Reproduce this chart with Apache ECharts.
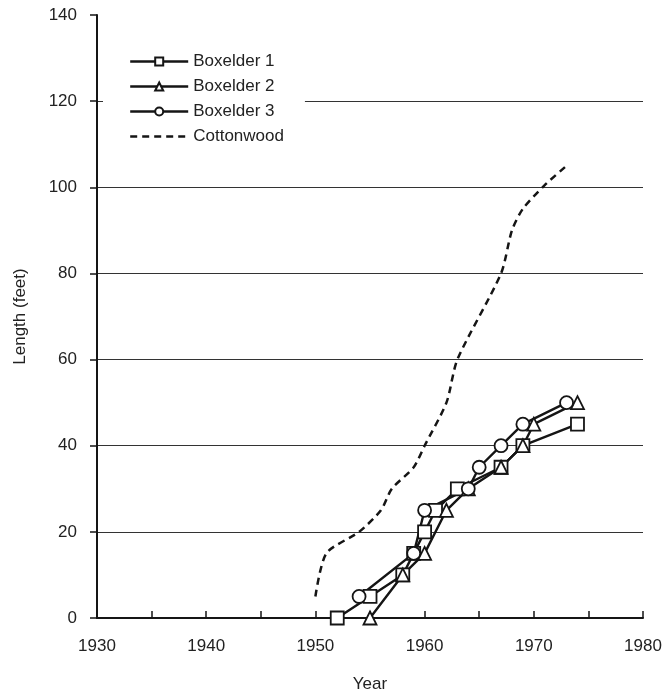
<!DOCTYPE html>
<html>
<head>
    <meta charset="utf-8">
    <script type="text/javascript" src="https://cdn.jsdelivr.net/npm/echarts@6/dist/echarts.min.js"></script>
    <style type="text/css">
        * {
            margin: 0;
            padding: 0;
        }
        #container {
            width: 665px;
            height: 698px;
            background: #fff;
        }
    </style>
</head>
<body>
<div id="container"></div>

<script type="text/javascript">

    //数据: [年份, 长度]
    var boxelder1 = [[1952, 0], [1955, 5], [1958, 10], [1959, 15], [1960, 20], [1961, 25],
                     [1963, 30], [1967, 35], [1969, 40], [1974, 45]];
    var boxelder2 = [[1955, 0], [1958, 10], [1960, 15], [1962, 25], [1964, 30], [1967, 35],
                     [1969, 40], [1970, 45], [1974, 50]];
    var boxelder3 = [[1954, 5], [1959, 15], [1960, 25], [1964, 30], [1965, 35], [1967, 40],
                     [1969, 45], [1973, 50]];
    var cottonwood = [[1950, 5], [1951, 15], [1954, 20], [1956, 25], [1957, 30], [1959, 35],
                      [1960, 40], [1962, 50], [1963, 60], [1967, 80], [1968, 90], [1969, 95],
                      [1971, 100.5], [1973, 105]];
    var seriesNames = ['Boxelder 1', 'Boxelder 2', 'Boxelder 3', 'Cottonwood'];

    var lineColor = '#151515';
    var fontName = 'Liberation Sans';

    //带符号的折线
    function markerLine(name, data, symbol) {
        return {
            name: name,
            type: 'line',
            data: data,
            symbol: symbol,
            symbolSize: 13,
            z: 3,
            itemStyle: {
                color: '#fff',
                borderColor: lineColor,
                borderWidth: 1.8
            },
            lineStyle: {
                color: lineColor,
                width: 2.4
            }
        };
    }

    var dom = document.getElementById('container');
    var myChart = echarts.init(dom);
    var option = {
        animation: false,
        textStyle: { fontFamily: fontName },
        grid: {//网格
            left: 97,
            right: 22,
            top: 15,
            bottom: 80
        },
        legend: {
            orient: 'vertical',
            left: 103,
            top: 45,
            padding: [8, 21, 8, 26],
            backgroundColor: '#fff',
            itemWidth: 58,
            itemHeight: 10,
            itemGap: 8,
            lineStyle: { width: 2.4 },
            data: [
                seriesNames[0],
                seriesNames[1],
                seriesNames[2],
                {//图例中虚线不要圆点
                    name: seriesNames[3],
                    itemStyle: { color: 'rgba(0,0,0,0)', borderColor: 'rgba(0,0,0,0)', opacity: 0 }
                }
            ],
            textStyle: {
                color: '#222',
                fontSize: 17,
                fontFamily: fontName
            }
        },
        xAxis: {
            type: 'value',
            min: 1930,
            max: 1980,
            interval: 5,
            name: 'Year',
            nameLocation: 'middle',
            nameGap: 58,
            nameTextStyle: { color: '#222', fontSize: 17 },
            axisLine: { lineStyle: { color: lineColor, width: 2 } },
            axisTick: { inside: true, length: 7, lineStyle: { color: lineColor, width: 1.5 } },
            axisLabel: {
                margin: 20,
                color: '#222',
                fontSize: 17,
                formatter: function (v) {
                    return v % 10 === 0 ? String(v) : '';
                }
            },
            splitLine: { show: false }
        },
        yAxis: {
            type: 'value',
            min: 0,
            max: 140,
            interval: 20,
            name: 'Length (feet)',
            nameLocation: 'middle',
            nameGap: 68,
            nameTextStyle: { color: '#222', fontSize: 17 },
            axisLine: { show: true, lineStyle: { color: lineColor, width: 2 } },
            axisTick: { show: true, length: 7, lineStyle: { color: lineColor, width: 1.5 } },
            axisLabel: { margin: 20, color: '#222', fontSize: 17 },
            splitLine: {
                show: true,
                showMaxLine: false,
                lineStyle: { color: '#333', width: 1.2 }
            }
        },
        series: [
            markerLine(seriesNames[0], boxelder1, 'rect'),
            markerLine(seriesNames[1], boxelder2, 'triangle'),
            markerLine(seriesNames[2], boxelder3, 'circle'),
            {
                name: seriesNames[3],
                type: 'line',
                data: cottonwood,
                symbol: 'none',
                smooth: 0.25,
                z: 2,
                itemStyle: { color: lineColor },
                lineStyle: {
                    color: lineColor,
                    width: 2.5,
                    type: [7, 5]
                }
            }
        ]
    };
    myChart.setOption(option, true);

</script>
</body>
</html>
